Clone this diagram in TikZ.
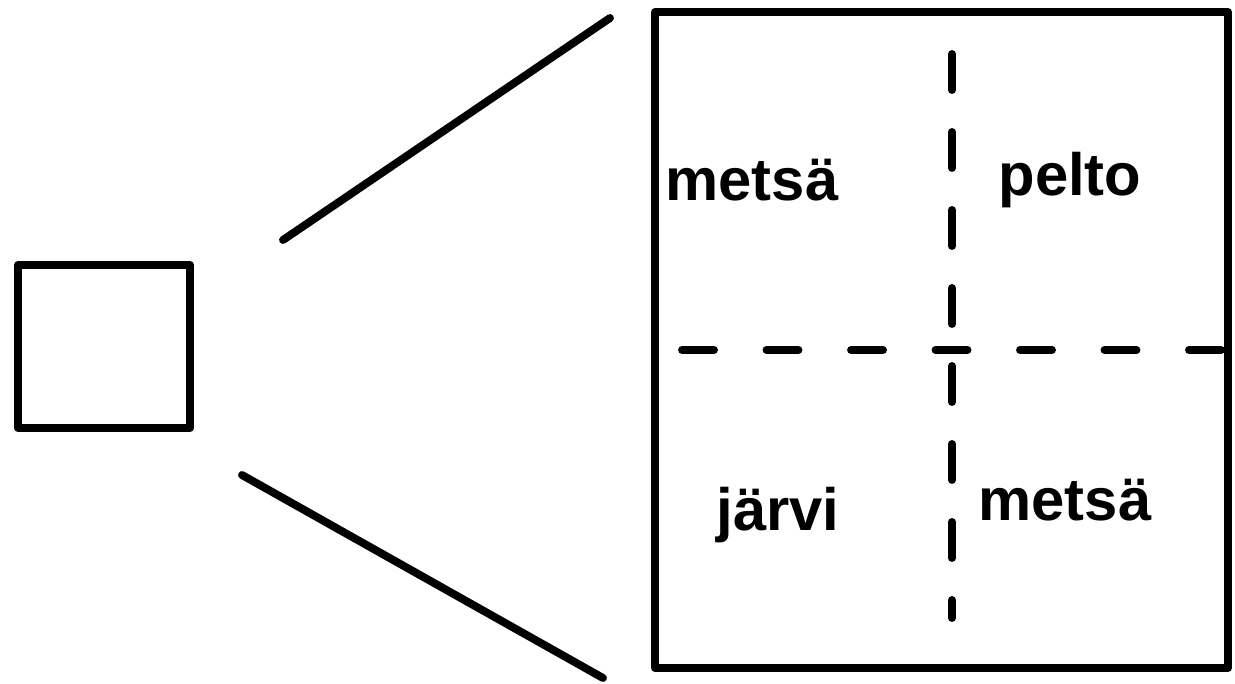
\documentclass[tikz,border=0pt]{standalone}
\usepackage{fontspec}
\setmainfont{Liberation Sans}
\usepackage{tikz}
\usetikzlibrary{positioning}
\tikzset{
  %% Frames (small view and zoomed map)
  framebox/.style={
    rectangle, draw=black, line width=4.5pt,
    inner sep=0pt, line join=round},
  %% Zoom lines
  zoomline/.style={draw=black, line width=4.5pt, line cap=round},
  %% Area borders inside the map
  border/.style={draw=black, line width=4.5pt, line cap=round,
    dash pattern=on 0.64cm off 1.05cm},
  vborder/.style={draw=black, line width=4.5pt, line cap=round,
    dash pattern=on 0.72cm off 0.84cm},
  %% Land-use labels
  area/.style={font=\fontsize{34}{38}\selectfont\bfseries, inner sep=0pt},
}
\begin{document}
\begin{tikzpicture}
  \useasboundingbox (0,0) rectangle (24.7,13.68);

  %% Small square and zoomed map
  \node[framebox, minimum width=3.44cm, minimum height=3.26cm] (view) at (2.08,6.75) {};
  \node[framebox, minimum width=11.46cm, minimum height=13.12cm] (map) at (18.83,6.88) {};

  %% Zoom lines
  \coordinate (zt0) at (5.66,8.88);
  \coordinate (zt1) at (12.2,13.32);
  \coordinate (zb0) at (4.84,4.18);
  \coordinate (zb1) at (12.06,0.12);
  \draw[zoomline] (zt0) -- (zt1);
  \draw[zoomline] (zb0) -- (zb1);

  %% Borders between areas
  \coordinate (hw) at (13.64,6.68);
  \coordinate (he) at (24.48,6.68);
  \coordinate (vn) at (19.04,12.6);
  \coordinate (vs) at (19.04,1.32);
  \draw[border] (hw) -- (he);
  \draw[vborder] (vn) -- (vs);

  %% Labels
  \node[area] (nw) at (15.04,10.08) {metsä};
  \node[area] (ne) at (21.4,10.08)  {pelto};
  \node[area] (sw) at (15.56,3.38)  {järvi};
  \node[area] (se) at (21.3,3.68)   {metsä};

\end{tikzpicture}
\end{document}
